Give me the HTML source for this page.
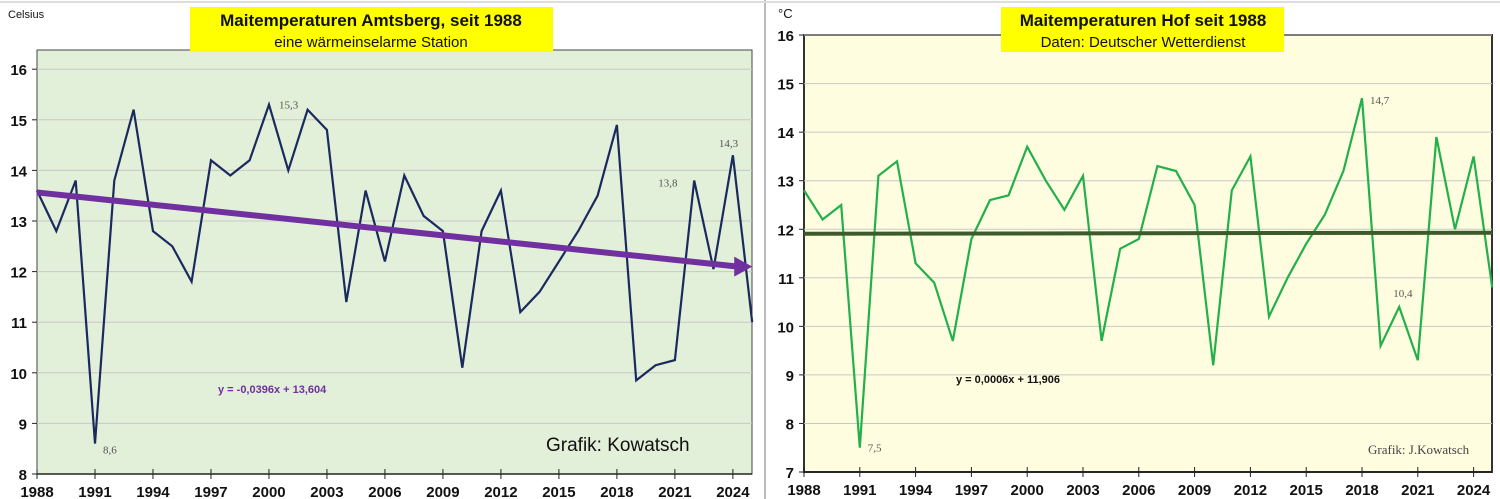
<!DOCTYPE html>
<html><head><meta charset="utf-8"><style>
body{margin:0;background:#fff;font-family:"Liberation Sans",sans-serif}
svg{display:block}
</style></head><body>
<svg width="1500" height="499" xmlns="http://www.w3.org/2000/svg" id="svg">
<rect x="0" y="0" width="1500" height="499" fill="#fff"/>
<line x1="765" y1="0" x2="765" y2="499" stroke="#bbb" stroke-width="2"/>
<line x1="0" y1="2" x2="1500" y2="2" stroke="#ddd" stroke-width="2"/>
<g id="left"></g>
<g id="right"></g>
</svg>
<script>
const years=[];for(let y=1988;y<=2025;y++)years.push(y);
const amtsberg=[13.6,12.8,13.8,8.6,13.8,15.2,12.8,12.5,11.8,14.2,13.9,14.2,15.3,14.0,15.2,14.8,11.4,13.6,12.2,13.9,13.1,12.8,10.1,12.8,13.6,11.2,11.6,12.2,12.8,13.5,14.9,9.85,10.15,10.25,13.8,12.05,14.3,11.0];
const hof=[12.8,12.2,12.5,7.5,13.1,13.4,11.3,10.9,9.7,11.8,12.6,12.7,13.7,13.0,12.4,13.1,9.7,11.6,11.8,13.3,13.2,12.5,9.2,12.8,13.5,10.2,11.0,11.7,12.3,13.2,14.7,9.6,10.4,9.3,13.9,12.0,13.5,10.8];
const xTicks=[1988,1991,1994,1997,2000,2003,2006,2009,2012,2015,2018,2021,2024];
const leftYTicks=[8,9,10,11,12,13,14,15,16];
const rightYTicks=[7,8,9,10,11,12,13,14,15,16];
const leftTrend=[-0.0396,13.604];
const rightTrend=[0.0006,11.906];
const NS="http://www.w3.org/2000/svg";
function mk(p,t,a,txt){const e=document.createElementNS(NS,t);for(const k in a)e.setAttribute(k,a[k]);if(txt!==undefined)e.textContent=txt;p.appendChild(e);return e;}

function draw(g,cfg){
  const xs=y=>cfg.x0+(y-1988)*cfg.dx;
  const ys=v=>cfg.yb-(v-cfg.ymin)*cfg.dy;
  const bg=mk(g,'rect',{x:cfg.x0,y:cfg.top,width:cfg.x1-cfg.x0,height:cfg.yb-cfg.top,fill:cfg.bg,stroke:cfg.frame,'stroke-width':cfg.fw});
  
  cfg.yt.forEach(v=>{
    if(v!==cfg.ymin){const l=mk(g,'line',{x1:cfg.x0,x2:cfg.x1,y1:ys(v),y2:ys(v),stroke:'#c8c8c8','stroke-width':1});
      }
    mk(g,'line',{x1:cfg.x0-5,x2:cfg.x0,y1:ys(v),y2:ys(v),stroke:'#222'});
    const t=mk(g,'text',{x:cfg.x0-10,y:ys(v)+6,'text-anchor':'end','font-size':15,'font-weight':'bold',fill:'#111'},String(v));
    
  });
  mk(g,'line',{x1:cfg.x0,x2:cfg.x1,y1:cfg.yb,y2:cfg.yb,stroke:'#222','stroke-width':1.5});
  xTicks.forEach(y=>{
    mk(g,'line',{x1:xs(y),x2:xs(y),y1:cfg.yb-5,y2:cfg.yb+5,stroke:'#222'});
    const t=mk(g,'text',{x:xs(y),y:cfg.yb+23,'text-anchor':'middle','font-size':15,'font-weight':'bold',fill:'#111'},String(y));
    
  });
  const pts=cfg.data.map((v,i)=>xs(years[i]).toFixed(1)+','+ys(v).toFixed(1)).join(' ');
  const pl=mk(g,'polyline',{points:pts,fill:'none',stroke:cfg.lc,'stroke-width':2.2,'stroke-linejoin':'miter'});
  
  const tv=i=>cfg.trend[0]*(i+1)+cfg.trend[1];
  const n=cfg.data.length;
  const tl=mk(g,'line',{x1:xs(1988),y1:ys(tv(0)),x2:xs(years[n-1])-(cfg.arrow?14:0),y2:ys(tv(n-1)),stroke:cfg.tc,'stroke-width':cfg.tw});
  
  if(cfg.arrow){const ex=xs(years[n-1]),ey=ys(tv(n-1));
    const a=mk(g,'polygon',{points:`${ex},${ey} ${ex-18},${ey-10} ${ex-18},${ey+10}`,fill:cfg.tc});
    }
  cfg.labels.forEach(([i,txt,dx,dy])=>{
    const t=mk(g,'text',{x:xs(years[i])+dx,y:ys(cfg.data[i])+dy,'font-size':11,fill:'#555','font-family':'Liberation Serif, serif'},txt);
    
  });
}
const L=document.getElementById('left'),R=document.getElementById('right');
draw(L,{x0:37,x1:752,top:50,yb:474,ymin:8,dy:50.6,dx:19.33,bg:'#e2efd9',frame:'#444',fw:1,yt:leftYTicks,data:amtsberg,lc:'#1a2a5e',trend:leftTrend,tc:'#7030a0',tw:6,arrow:true,
 labels:[[3,'8,6',8,10],[12,'15,3',10,4],[34,'13,8',-36,6],[36,'14,3',-14,-8]]});
draw(R,{x0:804,x1:1492,top:35,yb:472,ymin:7,dy:48.55,dx:18.6,bg:'#fffde0',frame:'#333',fw:2,yt:rightYTicks,data:hof,lc:'#22b04b',trend:rightTrend,tc:'#3d5a2a',tw:4,arrow:false,
 labels:[[3,'7,5',8,4],[30,'14,7',8,6],[32,'10,4',-6,-10]]});
function T(p,name,x,y,s,txt,extra){const t=mk(p,'text',Object.assign({x:x,y:y,'font-size':s,fill:'#111'},extra||{}),txt);return t;}
const s=document.getElementById('svg');
T(s,'y-axis-unit',8,18,11,'Celsius');
T(s,'y-axis-unit',778,18,13,'°C');
let b=mk(s,'rect',{x:190,y:7,width:363,height:45,fill:'#ffff00'});
T(s,'chart-title',371,26,17,'Maitemperaturen Amtsberg, seit 1988',{'text-anchor':'middle','font-weight':'bold'});
T(s,'chart-subtitle',371,47,15,'eine wärmeinselarme Station',{'text-anchor':'middle'});
b=mk(s,'rect',{x:1001,y:7,width:283,height:45,fill:'#ffff00'});
T(s,'chart-title',1143,26,17,'Maitemperaturen Hof seit 1988',{'text-anchor':'middle','font-weight':'bold'});
T(s,'chart-subtitle',1143,47,15,'Daten: Deutscher Wetterdienst',{'text-anchor':'middle'});
T(s,'trend-equation',218,393,11,'y = -0,0396x + 13,604',{fill:'#7030a0','font-weight':'bold'});
T(s,'trend-equation',956,383,11,'y = 0,0006x + 11,906',{'font-weight':'bold'});
T(s,'credit',546,451,19,'Grafik: Kowatsch');
T(s,'credit',1368,454,13,'Grafik: J.Kowatsch',{'font-family':'Liberation Serif, serif',fill:'#444'});
</script>
</body></html>
